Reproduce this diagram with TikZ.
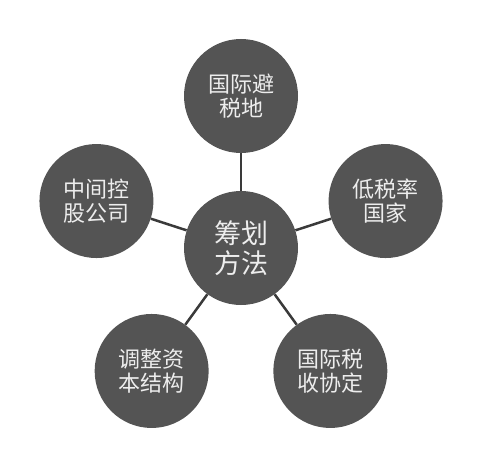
\documentclass[tikz,border=0pt]{standalone}
\usepackage{fontspec}
\newfontfamily\cjk{Noto Sans CJK SC}
\definecolor{discgray}{HTML}{545454}
\definecolor{textgray}{HTML}{EDEDED}
\definecolor{linkgray}{HTML}{3A3A3A}

\begin{document}
\begin{tikzpicture}[x=1pt,y=1pt]
	\tikzset{%
		disc/.style={circle,fill=discgray,text=textgray,minimum size=114pt,inner sep=0pt,align=center},
		hub/.style={disc,font=\cjk\fontsize{27}{30}\selectfont},
		leaf/.style={disc,font=\cjk\fontsize{22}{24}\selectfont},
		link/.style={draw=linkgray,line width=2.5pt},
	}

	\def\rad{152}

	\useasboundingbox (0,0) rectangle (492,456);

	\node [hub] (hub) at (241,208) {筹划\\方法};

	\node [leaf] (haven) at ([shift={(90:\rad)}]hub.center) {国际避\\税地};
	\node [leaf] (lowtax) at ([shift={(18:\rad)}]hub.center) {低税率\\国家};
	\node [leaf] (treaty) at ([shift={(-54:\rad)}]hub.center) {国际税\\收协定};
	\node [leaf] (capital) at ([shift={(-126:\rad)}]hub.center) {调整资\\本结构};
	\node [leaf] (holding) at ([shift={(162:\rad)}]hub.center) {中间控\\股公司};

	\draw [link] (hub) -- (haven);
	\draw [link] (hub) -- (lowtax);
	\draw [link] (hub) -- (treaty);
	\draw [link] (hub) -- (capital);
	\draw [link] (hub) -- (holding);
\end{tikzpicture}
\end{document}
